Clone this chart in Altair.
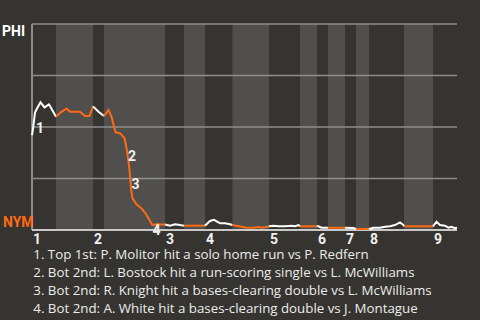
import altair as alt
import pandas as pd

# play index (x) and Phillies win probability in % (y)
play = [0, 0.2, 0.6, 1.0, 1.7, 2.5, 3.4, 4.8,
        5.7, 6.9, 7.6, 9.6, 10.6, 11.5, 12.2,
        13.3, 14.4,
        15.3, 15.9, 16.7, 17.6, 18.5, 18.9, 19.3, 19.6, 19.8, 20.1, 20.9, 21.9, 22.7, 23.6, 24.1, 24.9, 26.6,
        27.6, 28.6, 29.6, 30.4,
        34.6,
        34.9, 35.6, 36.4, 37.1, 37.6, 38.6, 39.6, 40.1,
        40.9, 41.9, 42.9, 44.3, 45.3, 45.9, 46.9, 47.4,
        48.3, 49.3, 50.6, 51.9, 52.6, 53.3, 53.6,
        57.0,
        57.3, 57.9, 59.2,
        62.6,
        64.3, 64.8,
        67.4,
        68.3, 69.6, 70.6, 71.6, 72.6, 73.6, 74.3, 74.4,
        80.2,
        80.9, 81.6, 82.6, 83.3, 83.9, 84.6, 85.0]
phi_pct = [46, 49, 57, 59, 62, 59.5, 61, 55,
           57, 59, 57.4, 57.4, 55.3, 55.3, 60,
           57.4, 55.3,
           58.3, 55, 47.4, 47, 44.5, 39.7, 33.2, 26.7, 20.2, 15.4, 12.5, 10.5, 8.1, 4.4, 2.4, 2.8, 2.7,
           2.1, 2.8, 2.4, 2.1,
           2.1,
           2.8, 4.4, 4.9, 4.0, 3.3, 3.3, 2.8, 2.4,
           2.1, 1.6, 1.1, 1.1, 1.5, 1.1, 1.5, 1.8,
           2.1, 1.8, 1.8, 2.1, 1.8, 2.4, 1.8,
           1.8,
           1.8, 1.1, 1.1,
           1.1,
           1.0, 0.5,
           0.5,
           1.1, 1.1, 1.6, 1.8, 2.4, 3.7, 2.4, 1.8,
           1.8,
           4.0, 2.4, 2.1, 1.1, 1.6, 0.9, 1.1]

# half-inning boundaries (top 1st, bot 1st, top 2nd, ...)
half_bounds = [0, 4.8, 12.2, 14.4, 26.6, 30.4, 34.6, 40.1, 47.4, 53.6,
               57.0, 59.2, 62.6, 64.8, 67.4, 74.4, 80.2, 85.0]
inning_labels = ["1", "2", "3", "4", "5", "6", "7", "8", "9"]

event_labels = ["1", "2", "3", "4"]
event_play = [1.6, 20.0, 20.7, 24.9]
event_phi = [49, 35.4, 21.8, -0.5]

footer_lines = [
    "1. Top 1st: P. Molitor hit a solo home run vs P. Redfern",
    "2. Bot 2nd: L. Bostock hit a run-scoring single vs L. McWilliams",
    "3. Bot 2nd: R. Knight hit a bases-clearing double vs L. McWilliams",
    "4. Bot 2nd: A. White hit a bases-clearing double vs J. Montague",
]

grid_values = [25, 50, 75, 100]

W, H = 425, 206
FONT = "Roboto"
ORANGE = "#ff6a13"
BG = "#363430"
LIGHT = "#504f4d"

rows = []
for k in range(len(half_bounds) - 1):
    lo, hi = half_bounds[k], half_bounds[k + 1]
    side = "top" if k % 2 == 0 else "bot"
    for x, p in zip(play, phi_pct):
        if lo - 1e-9 <= x <= hi + 1e-9:
            rows.append({"play": x, "phi": p, "seg": k, "side": side})
line_df = pd.DataFrame(rows)

bands_df = pd.DataFrame([
    {"start": half_bounds[k], "end": half_bounds[k + 1]}
    for k in range(1, len(half_bounds) - 1, 2)
])
inn_df = pd.DataFrame({"start": half_bounds[0::2][:len(inning_labels)], "label": inning_labels})
ev_df = pd.DataFrame({"play": event_play, "phi": event_phi, "label": event_labels})
grid_df = pd.DataFrame({"v": grid_values})
foot_df = pd.DataFrame({"t": ["\n".join(footer_lines)]})

xs = alt.Scale(domain=[0, 85], nice=False, zero=False)
ys = alt.Scale(domain=[0, 100], nice=False)

bands = alt.Chart(bands_df).mark_rect(color=LIGHT).encode(
    x=alt.X("start:Q", scale=xs, axis=None),
    x2="end:Q",
    y=alt.value(0),
    y2=alt.value(H),
)

grid = alt.Chart(grid_df).mark_rule(color="#8c8c8c", strokeWidth=1.5).encode(
    y=alt.Y("v:Q", scale=ys, axis=None),
    x=alt.value(0),
    x2=alt.value(W),
)

left_axis = alt.Chart(grid_df).mark_rule(color="#8c8c8c", strokeWidth=1.5).encode(
    x=alt.value(0), y=alt.value(0), y2=alt.value(H)
)
bottom_axis = alt.Chart(grid_df).mark_rule(color="#c8c8c8", strokeWidth=1.5).encode(
    x=alt.value(0), x2=alt.value(W), y=alt.value(H)
)

line = alt.Chart(line_df).mark_line(strokeWidth=2, strokeJoin="miter").encode(
    x=alt.X("play:Q", scale=xs, axis=None),
    y=alt.Y("phi:Q", scale=ys, axis=None),
    color=alt.Color("side:N", scale=alt.Scale(domain=["top", "bot"], range=["#ffffff", ORANGE]), legend=None),
    detail="seg:N",
    order="play:Q",
)

events = alt.Chart(ev_df).mark_text(font=FONT, fontSize=14, fontWeight="bold", color="#f0f0f0",
                                    align="center", baseline="middle").encode(
    x=alt.X("play:Q", scale=xs, axis=None),
    y=alt.Y("phi:Q", scale=ys, axis=None),
    text="label:N",
)

inn = alt.Chart(inn_df).mark_text(font=FONT, fontSize=14, fontWeight="bold", color="#f0f0f0",
                                  align="left", baseline="alphabetic", dx=1).encode(
    x=alt.X("start:Q", scale=xs, axis=None),
    y=alt.value(H + 13.5),
    text="label:N",
)

phi_lbl = alt.Chart(grid_df.head(1)).mark_text(font=FONT, fontSize=14, fontWeight="bold", color="#ffffff",
                                               align="left", baseline="alphabetic").encode(
    x=alt.value(-30), y=alt.value(12), text=alt.value("PHI"))
nym_lbl = alt.Chart(grid_df.head(1)).mark_text(font=FONT, fontSize=14, fontWeight="bold", color=ORANGE,
                                               align="left", baseline="alphabetic").encode(
    x=alt.value(-29), y=alt.value(202.7), text=alt.value("NYM"))

footer = alt.Chart(foot_df).mark_text(font="Open Sans", fontSize=13.3, color="#ececec", align="left",
                                      baseline="alphabetic", lineBreak="\n", lineHeight=18).encode(
    x=alt.value(1.3), y=alt.value(235), text="t:N")

chart = alt.layer(bands, grid, left_axis, bottom_axis, line, events, inn, phi_lbl, nym_lbl, footer).properties(
    width=W, height=H,
    autosize=alt.AutoSizeParams(type="none"),
    padding={"left": 32, "top": 24, "right": 23, "bottom": 90},
    background=BG,
).configure_view(stroke=None)

chart.save("out.html", embed_options={"renderer": "svg", "actions": False})
